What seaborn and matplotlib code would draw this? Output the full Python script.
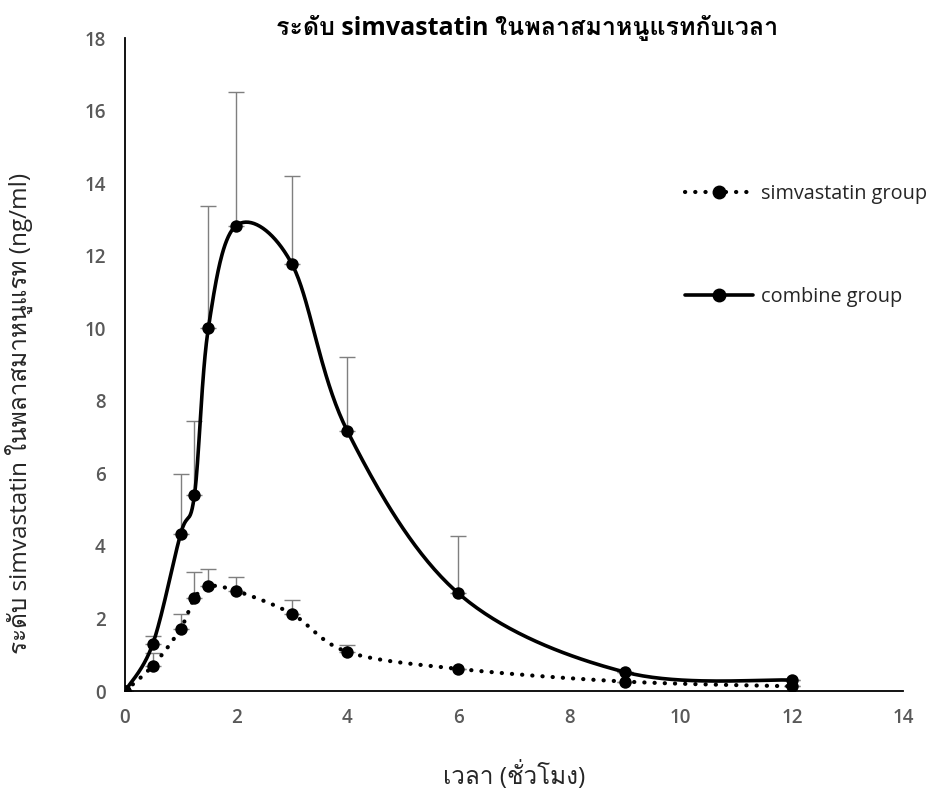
import numpy as np
import pandas as pd
import matplotlib
matplotlib.use("Agg")
import matplotlib.pyplot as plt
from matplotlib import font_manager
from matplotlib.ft2font import FT2Font
from matplotlib.lines import Line2D
import seaborn as sns

# Sampling times (hours)
time_h = [0, 0.5, 1, 1.25, 1.5, 2, 3, 4, 6, 9, 12]

# Mean plasma simvastatin concentration (ng/ml)
simva_mean = [0, 0.70, 1.72, 2.56, 2.89, 2.76, 2.13, 1.08, 0.61, 0.26, 0.13]
combine_mean = [0, 1.30, 4.33, 5.41, 10.01, 12.83, 11.78, 7.17, 2.69, 0.52, 0.30]

# Upper error (SD)
simva_err = [0, 0.36, 0.39, 0.71, 0.47, 0.38, 0.37, 0.19, 0, 0, 0]
combine_err = [0, 0.22, 1.64, 2.02, 3.35, 3.69, 2.42, 2.04, 1.58, 0, 0]

series_names = ["simvastatin group", "combine group"]
title_text = "ระดับ simvastatin ในพลาสมาหนูแรทกับเวลา"
xlabel_text = "เวลา (ชั่วโมง)"
ylabel_text = "ระดับ simvastatin ในพลาสมาหนูแรท (ng/ml)"
x_ticks = [0, 2, 4, 6, 8, 10, 12, 14]
y_ticks = [0, 2, 4, 6, 8, 10, 12, 14, 16, 18]


def find_family(codepoint):
    """Return the name of an installed font that has a glyph for codepoint."""
    seen = set()
    for entry in font_manager.fontManager.ttflist:
        if entry.fname in seen:
            continue
        seen.add(entry.fname)
        try:
            if codepoint in FT2Font(entry.fname).get_charmap():
                return entry.name
        except Exception:
            continue
    return None


sns.set_theme(style="white")
thai_family = find_family(0x0E23)
# Latin glyphs from Open Sans, Thai glyphs from the first font that has them
families = ["Open Sans"] + ([thai_family] if thai_family else []) + ["DejaVu Sans"]
plt.rcParams["font.family"] = families


def smooth_curve(xs, ys, steps=40):
    """Parametric Catmull-Rom (cubic Bezier, tension 1/6) through the points."""
    pts = np.column_stack([xs, ys]).astype(float)
    n = len(pts)
    out = []
    for i in range(n - 1):
        p0 = pts[i - 1] if i > 0 else pts[i]
        p1 = pts[i]
        p2 = pts[i + 1]
        p3 = pts[i + 2] if i + 2 < n else pts[i + 1]
        c1 = p1 + (p2 - p0) / 6.0
        c2 = p2 - (p3 - p1) / 6.0
        t = np.linspace(0, 1, steps)[:, None]
        seg = ((1 - t) ** 3) * p1 + 3 * ((1 - t) ** 2) * t * c1 \
            + 3 * (1 - t) * t ** 2 * c2 + t ** 3 * p2
        out.append(seg if i == 0 else seg[1:])
    out = np.vstack(out)
    return out[:, 0], out[:, 1]


df = pd.DataFrame({
    "time": time_h * 2,
    "conc": simva_mean + combine_mean,
    "err": simva_err + combine_err,
    "group": [series_names[0]] * len(time_h) + [series_names[1]] * len(time_h),
})

fig = plt.figure(figsize=(9.31, 7.89), dpi=100)
ax = fig.add_axes([0.1343, 0.1242, 0.8356, 0.8276])

styles = {
    series_names[0]: dict(ls=(0, (0.05, 2.4)), lw=3.0, dash_capstyle="round"),
    series_names[1]: dict(ls="-", lw=2.6),
}

for name in series_names:
    sub = df[df["group"] == name]
    # upper error bars only
    ax.errorbar(sub["time"], sub["conc"],
                yerr=[np.zeros(len(sub)), sub["err"]],
                fmt="none", ecolor="#7f7f7f", elinewidth=1.0,
                capsize=6, capthick=1.0, zorder=1)
    sx, sy = smooth_curve(sub["time"].values, sub["conc"].values)
    ax.plot(sx, sy, color="black", zorder=2, **styles[name])

sns.scatterplot(data=df, x="time", y="conc", color="black", s=80,
                edgecolor="black", linewidth=0, legend=False, ax=ax, zorder=3)

ax.set_xlim(0, 14)
ax.set_ylim(0, 18)
ax.set_xticks(x_ticks)
ax.set_yticks(y_ticks)
ax.tick_params(axis="both", length=0, labelsize=13.5, labelcolor="#595959")
ax.tick_params(axis="x", pad=12)
ax.tick_params(axis="y", pad=14)
for lab in ax.get_xticklabels() + ax.get_yticklabels():
    lab.set_fontfamily(["Open Sans", "DejaVu Sans"])
    lab.set_fontweight("semibold")

for side in ["top", "right"]:
    ax.spines[side].set_visible(False)
for side in ["left", "bottom"]:
    ax.spines[side].set_color("black")
    ax.spines[side].set_linewidth(1.3)

ax.set_xlabel(xlabel_text, fontsize=17.5, color="#262626", labelpad=24)
ax.set_ylabel(ylabel_text, fontsize=17.5, color="#262626")
ax.yaxis.set_label_coords(-0.118, 0.425)
ax.set_title(title_text, fontsize=18, fontweight="bold", color="black", pad=2,
             x=0.517)

handles = [
    Line2D([0], [0], color="black", marker="o", markersize=9, **styles[series_names[0]]),
    Line2D([0], [0], color="black", marker="o", markersize=9, **styles[series_names[1]]),
]
ax.legend(handles, series_names, loc="upper left", bbox_to_anchor=(0.72, 0.777),
          frameon=False, fontsize=14.3, labelspacing=4.2, handlelength=3.4,
          handletextpad=0.4, borderpad=0, borderaxespad=0, labelcolor="#262626")

fig.savefig("out.png", dpi=100)
